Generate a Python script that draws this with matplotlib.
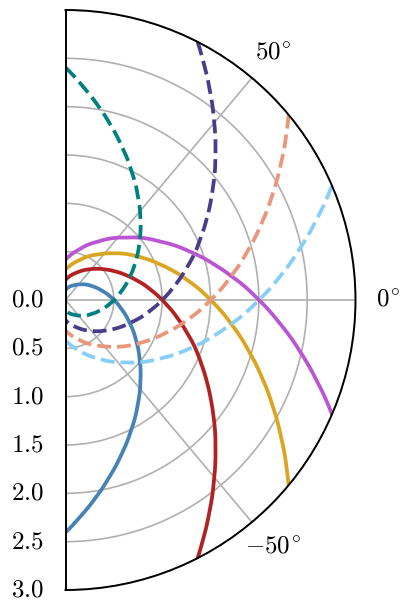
import numpy as np
import matplotlib
matplotlib.use("Agg")
import matplotlib.pyplot as plt

plt.rcParams["mathtext.fontset"] = "cm"
plt.rcParams["font.family"] = ["DejaVu Serif"]

# 曲线数据：角度（度）与半径，从图上读取（已按读数去噪）
blue_theta = [90, 60.6, 45.6, 26.6, 15.6, 3.7, -8.3, -18.8, -29.1, -38.4, -47.5, -55.3, -63.3, -70.0, -75.8, -81.3, -85.8, -90]
blue_r = [0.104, 0.174, 0.226, 0.314, 0.381, 0.469, 0.578, 0.694, 0.831, 0.977, 1.146, 1.313, 1.509, 1.696, 1.877, 2.067, 2.235, 2.405]

red_theta = [90, 70.7, 64.5, 53.4, 45.3, 38.2, 30.3, 23.0, 16.0, 6.3, -1.4, -8.1, -14.5, -25.0, -30.1, -33.8, -38.0, -44.7, -50.5, -55.9, -60.3, -62.9]
red_r = [0.208, 0.291, 0.324, 0.394, 0.454, 0.513, 0.589, 0.669, 0.756, 0.896, 1.025, 1.152, 1.288, 1.547, 1.691, 1.804, 1.941, 2.182, 2.414, 2.653, 2.865, 3.0]

gold_theta = [90, 71.8, 55.1, 46.6, 43.4, 31.9, 28.9, 22.7, 17.4, 9.0, -0.3, -8.3, -15.2, -21.3, -27.2, -32.4, -37.4, -39.7]
gold_r = [0.312, 0.428, 0.573, 0.665, 0.703, 0.86, 0.906, 1.009, 1.107, 1.282, 1.508, 1.734, 1.956, 2.175, 2.411, 2.64, 2.881, 3.0]

orchid_theta = [90, 76.0, 60.9, 45.9, 31.5, 21.3, 13.6, 8.4, 0.3, -6.4, -12.8, -18.0, -23.1]
orchid_r = [0.416, 0.531, 0.691, 0.898, 1.154, 1.379, 1.577, 1.727, 1.99, 2.236, 2.501, 2.738, 2.993]

teal_theta = [90, 85.8, 81.3, 75.8, 70.0, 63.3, 55.3, 47.5, 38.4, 29.1, 18.8, 8.3, -3.7, -15.6, -26.6, -45.6, -60.6, -90]
teal_r = [2.405, 2.235, 2.067, 1.877, 1.696, 1.509, 1.313, 1.146, 0.977, 0.831, 0.694, 0.578, 0.469, 0.381, 0.314, 0.226, 0.174, 0.104]

slate_theta = [62.9, 60.3, 55.9, 50.5, 44.7, 38.0, 33.8, 30.1, 25.0, 14.5, 8.1, 1.4, -6.3, -16.0, -23.0, -30.3, -38.2, -45.3, -53.4, -64.5, -70.7, -90]
slate_r = [3.0, 2.865, 2.653, 2.414, 2.182, 1.941, 1.804, 1.691, 1.547, 1.288, 1.152, 1.025, 0.896, 0.756, 0.669, 0.589, 0.513, 0.454, 0.394, 0.324, 0.291, 0.208]

salmon_theta = [39.7, 37.4, 32.4, 27.2, 21.3, 15.2, 8.3, 0.3, -9.0, -17.4, -22.7, -28.9, -31.9, -43.4, -46.6, -55.1, -71.8, -90]
salmon_r = [3.0, 2.881, 2.64, 2.411, 2.175, 1.956, 1.734, 1.508, 1.282, 1.107, 1.009, 0.906, 0.86, 0.703, 0.665, 0.573, 0.428, 0.312]

sky_theta = [23.1, 18.0, 12.8, 6.4, -0.3, -8.4, -13.6, -21.3, -31.5, -45.9, -60.9, -76.0, -90]
sky_r = [2.993, 2.738, 2.501, 2.236, 1.99, 1.727, 1.577, 1.379, 1.154, 0.898, 0.691, 0.531, 0.416]

r_ticks = [0.0, 0.5, 1.0, 1.5, 2.0, 2.5, 3.0]
theta_ticks = [-50, 0, 50]

solid = [
    (blue_theta, blue_r, "#4682B4"),
    (red_theta, red_r, "#B22222"),
    (gold_theta, gold_r, "#DAA520"),
    (orchid_theta, orchid_r, "#BA55D3"),
]
dashed = [
    (teal_theta, teal_r, "#008080"),
    (slate_theta, slate_r, "#483D8B"),
    (salmon_theta, salmon_r, "#E9967A"),
    (sky_theta, sky_r, "#87CEFA"),
]

fig = plt.figure(figsize=(4.01, 6.01), dpi=100)
# 楔形在正方形坐标框内水平居中
ax = fig.add_axes([-79.5 / 401, 11 / 601, 580 / 401, 580 / 601], projection="polar")
ax.set_thetamin(-90)
ax.set_thetamax(90)
ax.set_ylim(0, 3)

lines = []
for th, r, c in solid:
    lines += ax.plot(np.radians(th), r, color=c, lw=2.7)
for th, r, c in dashed:
    lines += ax.plot(np.radians(th), r, color=c, lw=2.7, ls="--")
# 让极坐标变换沿 (theta, r) 画线段，而不是画直弦
for ln in lines:
    ln.get_path()._interpolation_steps = 24

ax.set_rticks(r_ticks)
ax.set_yticklabels([f"${v:.1f}$" for v in r_ticks])
ax.set_thetagrids(theta_ticks, labels=[f"${t}^{{\\!\\circ}}$" for t in theta_ticks])
ax.tick_params(axis="both", labelsize=18)
ax.tick_params(axis="y", pad=12)
ax.tick_params(axis="x", pad=13)
ax.grid(True, color="#b0b0b0", lw=1.2)
for sp in ax.spines.values():
    sp.set_linewidth(1.4)

fig.savefig("out.png", dpi=100)
